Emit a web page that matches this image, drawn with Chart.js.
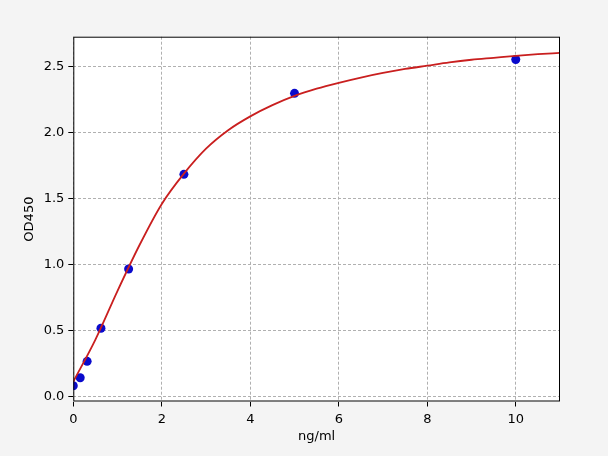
<!DOCTYPE html>
<html>
<head>
<meta charset="utf-8">
<script src="https://cdn.jsdelivr.net/npm/chart.js@4"></script>
<style>
  html, body { margin: 0; padding: 0; background: #f4f4f4; }
  canvas { display: block; }
</style>
</head>
<body>
<canvas id="chart" width="608" height="456"></canvas>
<script>
// standard points (ng/ml vs OD450)
const concentrations = [0, 0.156, 0.3125, 0.625, 1.25, 2.5, 5, 10];
const odValues = [0.08, 0.14, 0.265, 0.516, 0.966, 1.685, 2.30, 2.557];

// fitted curve, every 0.5 ng/ml
const curveX = [0, 0.5, 1, 1.5, 2, 2.5, 3, 3.5, 4, 4.5, 5, 5.5, 6, 6.5, 7, 7.5, 8, 8.5, 9, 9.5, 10, 10.5, 11];
const curveY = [0.11, 0.43, 0.80, 1.15, 1.46, 1.69, 1.88, 2.02, 2.125, 2.21, 2.28, 2.335, 2.38, 2.42, 2.455, 2.485, 2.51, 2.535, 2.555, 2.57, 2.585, 2.597, 2.607];

const xTicks = [0, 2, 4, 6, 8, 10];
const yTicks = [0, 0.5, 1, 1.5, 2, 2.5];

const font = { family: "DejaVu Sans", size: 13 };
const ink = "#000";

const frame = {
  id: "frame",
  beforeDraw(chart) {
    const { ctx, chartArea: a } = chart;
    ctx.save();
    ctx.fillStyle = "#fff";
    ctx.fillRect(a.left, a.top, a.right - a.left, a.bottom - a.top);
    ctx.restore();
  },
  afterDraw(chart) {
    const { ctx, chartArea: a } = chart;
    ctx.save();
    ctx.strokeStyle = "#000";
    ctx.lineWidth = 1;
    ctx.strokeRect(a.left + 0.5, a.top + 0.5, a.right - a.left - 1, a.bottom - a.top - 1);
    ctx.restore();
  },
};

new Chart(document.getElementById("chart"), {
  type: "scatter",
  data: {
    datasets: [
      {
        type: "line",
        label: "fit",
        data: curveX.map((x, i) => ({ x, y: curveY[i] })),
        borderColor: "#c91f1f",
        borderWidth: 1.8,
        pointRadius: 0,
        cubicInterpolationMode: "monotone",
        fill: false,
        order: 0,
      },
      {
        label: "standards",
        data: concentrations.map((x, i) => ({ x, y: odValues[i] })),
        backgroundColor: "#0a0acc",
        borderWidth: 0,
        pointRadius: 4.5,
        order: 1,
      },
    ],
  },
  options: {
    responsive: false,
    animation: false,
    devicePixelRatio: 1,
    layout: { padding: { left: 0, right: 48, top: 36.7, bottom: 0 } },
    plugins: { legend: { display: false }, tooltip: { enabled: false } },
    scales: {
      x: {
        type: "linear",
        min: 0,
        max: 11,
        afterFit: (s) => { s.height = 54.5; },
        afterBuildTicks: (s) => { s.ticks = xTicks.map((v) => ({ value: v })); },
        ticks: { font, color: ink, padding: 5, maxRotation: 0, includeBounds: false },
        grid: {
          color: "#b0b0b0", lineWidth: 1,
          tickLength: 5, tickColor: ink, tickWidth: 1, tickBorderDash: [],
        },
        border: { display: false, dash: [3, 2] },
        title: { display: true, text: "ng/ml", font, color: ink, padding: { top: 0, bottom: 12 } },
      },
      y: {
        type: "linear",
        min: -0.04,
        max: 2.73,
        afterFit: (s) => { s.width = 73.3; },
        afterBuildTicks: (s) => { s.ticks = yTicks.map((v) => ({ value: v })); },
        ticks: { font, color: ink, padding: 4, includeBounds: false, callback: (v) => v.toFixed(1) },
        grid: {
          color: "#b0b0b0", lineWidth: 1,
          tickLength: 5, tickColor: ink, tickWidth: 1, tickBorderDash: [],
        },
        border: { display: false, dash: [3, 2] },
        title: { display: true, text: "OD450", font, color: ink, padding: { top: 21.7, bottom: 0 } },
      },
    },
  },
  plugins: [frame],
});
</script>
</body>
</html>
